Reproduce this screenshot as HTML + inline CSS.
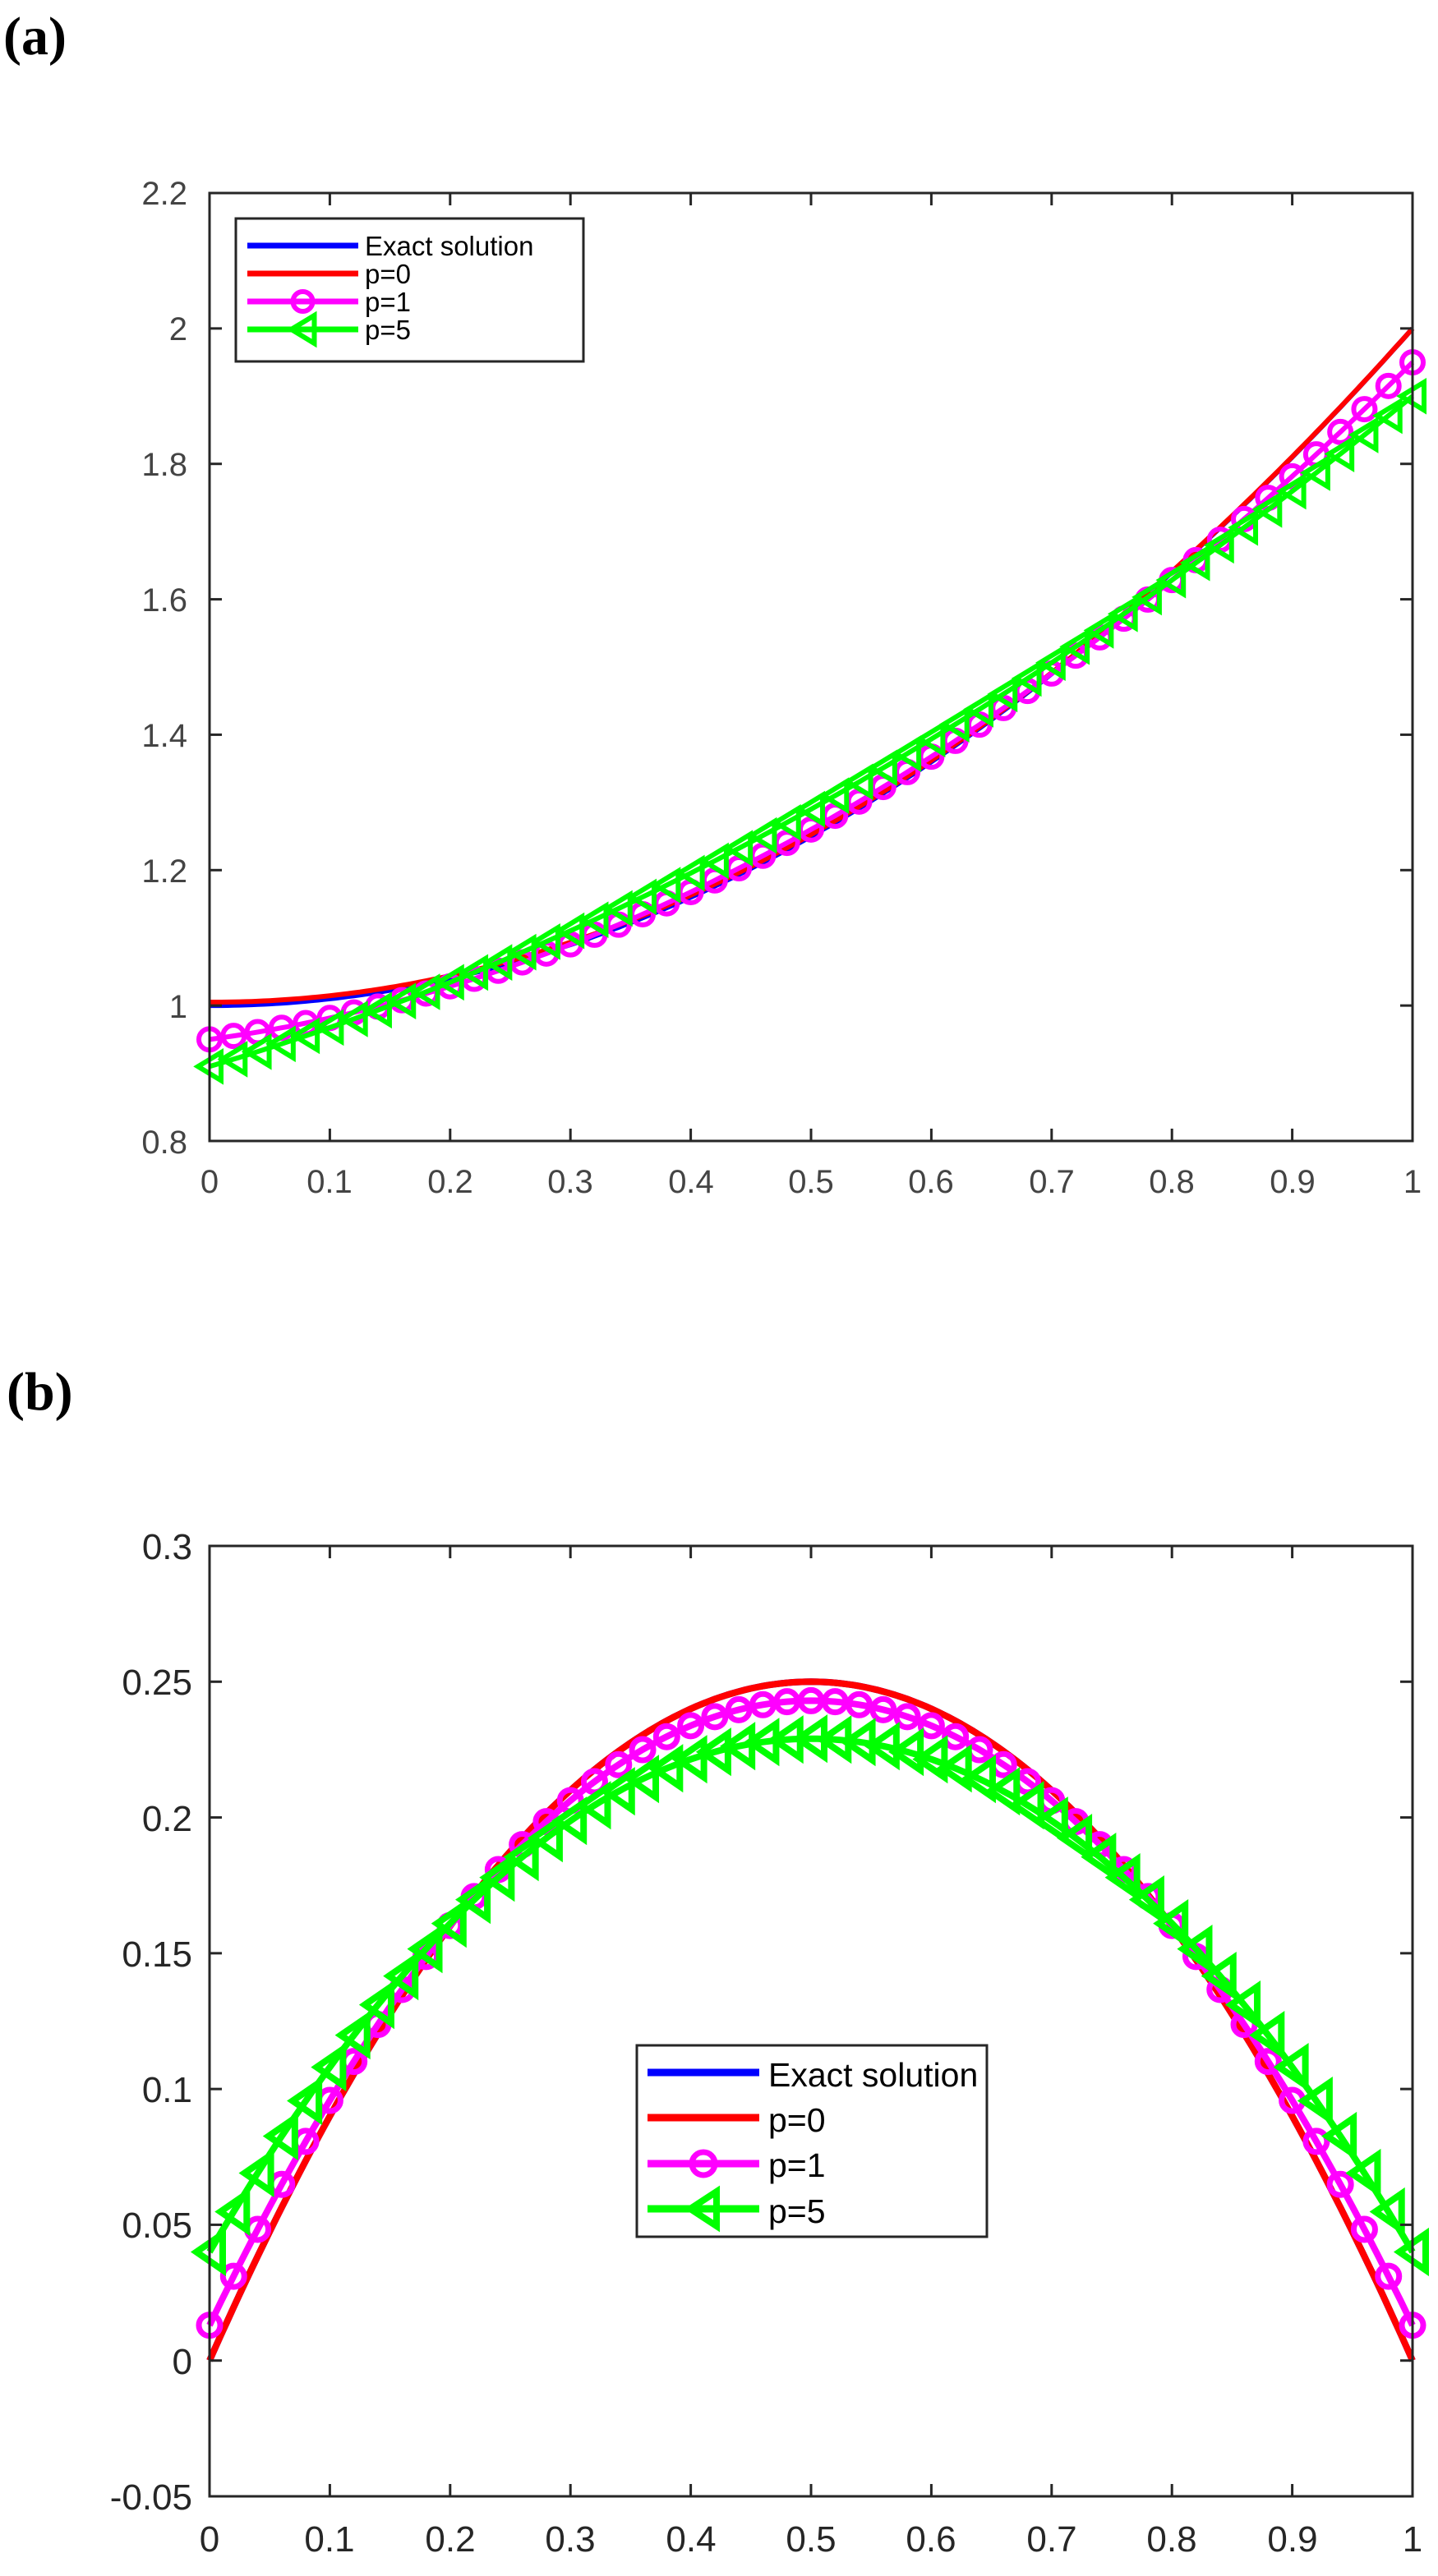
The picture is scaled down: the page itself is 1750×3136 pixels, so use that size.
<!DOCTYPE html>
<html><head><meta charset="utf-8"><style>
html,body{margin:0;padding:0;background:#fff;}
svg{display:block;}
</style></head><body>
<svg id="s" width="1750" height="3136" xmlns="http://www.w3.org/2000/svg">
<rect width="1750" height="3136" fill="#fff"/>
<text x="4" y="66" font-family="Liberation Serif, serif" font-weight="bold" font-size="66" fill="#000">(a)</text>
<text x="8" y="1716" font-family="Liberation Serif, serif" font-weight="bold" font-size="66" fill="#000">(b)</text>
<g id="ga"></g>
<g id="gb"></g>
<g font-family="Liberation Sans, sans-serif" font-size="40" fill="#444" text-anchor="end">
<text x="228" y="249">2.2</text><text x="228" y="414">2</text><text x="228" y="579">1.8</text><text x="228" y="744">1.6</text>
<text x="228" y="909">1.4</text><text x="228" y="1074">1.2</text><text x="228" y="1239">1</text><text x="228" y="1404">0.8</text>
</g>
<g font-family="Liberation Sans, sans-serif" font-size="40" fill="#444" text-anchor="middle">
<text x="255" y="1452">0</text><text x="401" y="1452">0.1</text><text x="548" y="1452">0.2</text><text x="694" y="1452">0.3</text>
<text x="841" y="1452">0.4</text><text x="987" y="1452">0.5</text><text x="1133" y="1452">0.6</text><text x="1280" y="1452">0.7</text>
<text x="1426" y="1452">0.8</text><text x="1573" y="1452">0.9</text><text x="1719" y="1452">1</text>
</g>
<g font-family="Liberation Sans, sans-serif" font-size="44" fill="#262626" text-anchor="end">
<text x="234" y="1898">0.3</text><text x="234" y="2063">0.25</text><text x="234" y="2229">0.2</text><text x="234" y="2394">0.15</text>
<text x="234" y="2559">0.1</text><text x="234" y="2724">0.05</text><text x="234" y="2890">0</text><text x="234" y="3055">-0.05</text>
</g>
<g font-family="Liberation Sans, sans-serif" font-size="44" fill="#262626" text-anchor="middle">
<text x="255" y="3106">0</text><text x="401" y="3106">0.1</text><text x="548" y="3106">0.2</text><text x="694" y="3106">0.3</text>
<text x="841" y="3106">0.4</text><text x="987" y="3106">0.5</text><text x="1133" y="3106">0.6</text><text x="1280" y="3106">0.7</text>
<text x="1426" y="3106">0.8</text><text x="1573" y="3106">0.9</text><text x="1719" y="3106">1</text>
</g>
<g id="lega">
<rect x="287" y="266" width="423" height="174" fill="#fff" stroke="#262626" stroke-width="3"/>
<g font-family="Liberation Sans, sans-serif" font-size="33" fill="#000">
<text x="444" y="311">Exact solution</text><text x="444" y="345">p=0</text><text x="444" y="379">p=1</text><text x="444" y="413">p=5</text>
</g>
</g>
<g id="legb">
<rect x="775" y="2490" width="426" height="233" fill="#fff" stroke="#262626" stroke-width="3"/>
<g font-family="Liberation Sans, sans-serif" font-size="41" fill="#000">
<text x="935" y="2540">Exact solution</text><text x="935" y="2595">p=0</text><text x="935" y="2650">p=1</text><text x="935" y="2706">p=5</text>
</g>
</g>
</svg>
<script>
var NS="http://www.w3.org/2000/svg";
function el(p,t,a){var e=document.createElementNS(NS,t);for(var k in a)e.setAttribute(k,a[k]);p.appendChild(e);return e;}
function plot(g,X0,X1,Y0,Y1,vmin,vmax,fs,lw,cr,cw,tri,tw,axc,ticksY){
  var sx=function(x){return X0+(X1-X0)*x;};
  var sy=function(v){return Y1-(Y1-Y0)*(v-vmin)/(vmax-vmin);};
  var series=[[fs[0],"#0000ff",null],[fs[1],"#ff0000",null],[fs[2],"#ff00ff","o"],[fs[3],"#00ff00","t"]];
  series.forEach(function(s){
    var d="";for(var i=0;i<=200;i++){var x=i/200;d+=(i?"L":"M")+sx(x).toFixed(1)+","+sy(s[0](x)).toFixed(1);}
    el(g,"path",{d:d,fill:"none",stroke:s[1],"stroke-width":lw,"stroke-linejoin":"round"});
    if(s[2]){for(var j=0;j<=50;j++){var x=j/50,px=sx(x),py=sy(s[0](x));
      if(s[2]=="o")el(g,"circle",{cx:px,cy:py,r:cr,fill:"none",stroke:s[1],"stroke-width":cw});
      else el(g,"path",{d:"M"+(px-tri[0])+","+py+"L"+(px+tri[0])+","+(py-tri[1])+"L"+(px+tri[0])+","+(py+tri[1])+"Z",fill:"none",stroke:s[1],"stroke-width":tw});}}
  });
  el(g,"rect",{x:X0,y:Y0,width:X1-X0,height:Y1-Y0,fill:"none",stroke:axc,"stroke-width":3});
  for(var i=1;i<10;i++){var x=X0+(X1-X0)*i/10;
    el(g,"line",{x1:x,y1:Y1,x2:x,y2:Y1-15,stroke:axc,"stroke-width":3});
    el(g,"line",{x1:x,y1:Y0,x2:x,y2:Y0+15,stroke:axc,"stroke-width":3});}
  for(var i=1;i<ticksY;i++){var y=Y0+(Y1-Y0)*i/ticksY;
    el(g,"line",{x1:X0,y1:y,x2:X0+15,y2:y,stroke:axc,"stroke-width":3});
    el(g,"line",{x1:X1,y1:y,x2:X1-15,y2:y,stroke:axc,"stroke-width":3});}
}
var fa=[function(x){return 1+x*x;},function(x){return 1.005+x*x-0.005*x;},
 function(x){return 1+x*x-0.05+0.24*x*(1-x);},function(x){return 1+x*x-0.09-0.01*x+0.54*x*(1-x);}];
var fb=[function(x){return x*(1-x);},function(x){return x*(1-x);},
 function(x){return 0.92*x*(1-x)+0.013;},function(x){return 0.756*x*(1-x)+0.04;}];
var ga=document.getElementById("ga"),gb=document.getElementById("gb");
plot(ga,255,1719,235,1389,0.8,2.2,fa,6,13,6,[14,17],6,"#262626",7);
plot(gb,255,1719,1882,3039,-0.05,0.3,fb,8,13,7,[16,22],8,"#262626",7);
var s=document.getElementById("s");
s.appendChild(document.getElementById("lega"));s.appendChild(document.getElementById("legb"));
var la=document.getElementById("lega"),lb=document.getElementById("legb");
function legLines(g,x0,x1,ys,lw,cr,cw,tri,tw){
  var c=["#0000ff","#ff0000","#ff00ff","#00ff00"];
  for(var i=0;i<4;i++)el(g,"line",{x1:x0,y1:ys[i],x2:x1,y2:ys[i],stroke:c[i],"stroke-width":lw});
  var m=(x0+x1)/2;
  el(g,"circle",{cx:m,cy:ys[2],r:cr,fill:"none",stroke:c[2],"stroke-width":cw});
  el(g,"path",{d:"M"+(m-tri[0])+","+ys[3]+"L"+(m+tri[0])+","+(ys[3]-tri[1])+"L"+(m+tri[0])+","+(ys[3]+tri[1])+"Z",fill:"none",stroke:c[3],"stroke-width":tw});
}
legLines(la,301,436,[299,333,367,401],7,12,6,[14,17],6);
legLines(lb,788,924,[2523,2578,2634,2689],9,14,7,[16,21],8);
</script>
</body></html>
